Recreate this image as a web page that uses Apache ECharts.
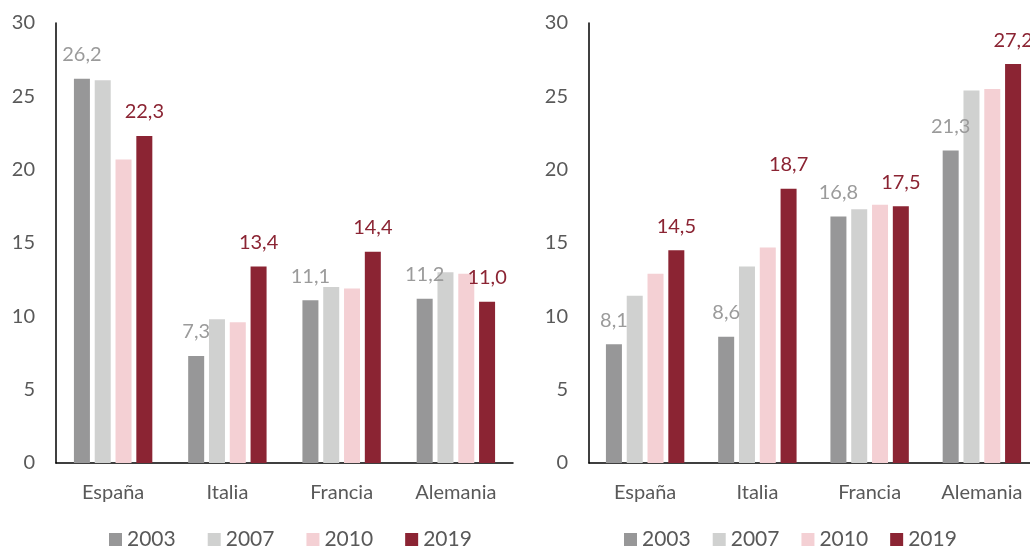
<!DOCTYPE html>
<html>
<head>
<meta charset="utf-8">
<script src="https://cdn.jsdelivr.net/npm/echarts@6/dist/echarts.min.js"></script>
<style>html,body{margin:0;padding:0;background:#fff;}#c{width:1030px;height:549px;}</style>
</head>
<body>
<div id="c"></div>
<script>
const categories = ['España', 'Italia', 'Francia', 'Alemania'];
const years = ['2003', '2007', '2010', '2019'];
const yTicks = [0, 5, 10, 15, 20, 25, 30];
// Left panel
const left2003 = [26.2, 7.3, 11.1, 11.2];
const left2007 = [26.1, 9.8, 12.0, 13.0];
const left2010 = [20.7, 9.6, 11.9, 12.9];
const left2019 = [22.3, 13.4, 14.4, 11.0];
// Right panel
const right2003 = [8.1, 8.6, 16.8, 21.3];
const right2007 = [11.4, 13.4, 17.3, 25.4];
const right2010 = [12.9, 14.7, 17.6, 25.5];
const right2019 = [14.5, 18.7, 17.5, 27.2];

const colors = ['#979798', '#D0D1D0', '#F4D0D4', '#8B2433'];
const labelColors = ['#9B9B9B', null, null, '#8B2433'];
const FONT = 'Lato';
const fmt = p => p.value.toFixed(1).replace('.', ',');

const leftData = [left2003, left2007, left2010, left2019];
const rightData = [right2003, right2007, right2010, right2019];

function mkSeries(dataSets, idx) {
  return years.map((y, i) => ({
    name: y,
    type: 'bar',
    xAxisIndex: idx,
    yAxisIndex: idx,
    data: dataSets[i],
    barWidth: 16,
    barGap: '30%',
    itemStyle: { color: colors[i] },
    label: labelColors[i] ? {
      show: true, position: 'top', distance: 14,
      color: labelColors[i], fontFamily: FONT, fontSize: 20,
      formatter: fmt
    } : { show: false },
    emphasis: { disabled: true },
    animation: false
  }));
}

function mkX(idx) {
  return {
    type: 'category', gridIndex: idx, data: categories,
    axisLine: { lineStyle: { color: '#000', width: 1.5 } },
    axisTick: { show: false },
    axisLabel: { color: '#595959', fontFamily: FONT, fontSize: 20, margin: 20 }
  };
}
function mkY(idx) {
  return {
    type: 'value', gridIndex: idx, min: yTicks[0], max: yTicks[yTicks.length - 1], interval: 5,
    axisLine: { show: true, lineStyle: { color: '#000', width: 1.5 } },
    axisTick: { show: false },
    splitLine: { show: false },
    axisLabel: { color: '#595959', fontFamily: FONT, fontSize: 20, margin: 21 }
  };
}
function mkLegend(left, gap) {
  return {
    data: years, bottom: -6, left: left,
    itemWidth: 13, itemHeight: 13, itemGap: gap,
    icon: 'rect',
    textStyle: { color: '#595959', fontFamily: FONT, fontSize: 21 },
    selectedMode: false
  };
}

const chart = echarts.init(document.getElementById('c'), null, { renderer: 'canvas' });
chart.setOption({
  animation: false,
  grid: [
    { left: 56, top: 23, bottom: 86, width: 457, outerBoundsMode: 'none', containLabel: false },
    { left: 589, top: 23, bottom: 86, width: 449, outerBoundsMode: 'none', containLabel: false }
  ],
  xAxis: [mkX(0), mkX(1)],
  yAxis: [mkY(0), mkY(1)],
  legend: [mkLegend(104, 32), mkLegend(619, 22)],
  series: mkSeries(leftData, 0).concat(mkSeries(rightData, 1))
});
</script>
</body>
</html>
